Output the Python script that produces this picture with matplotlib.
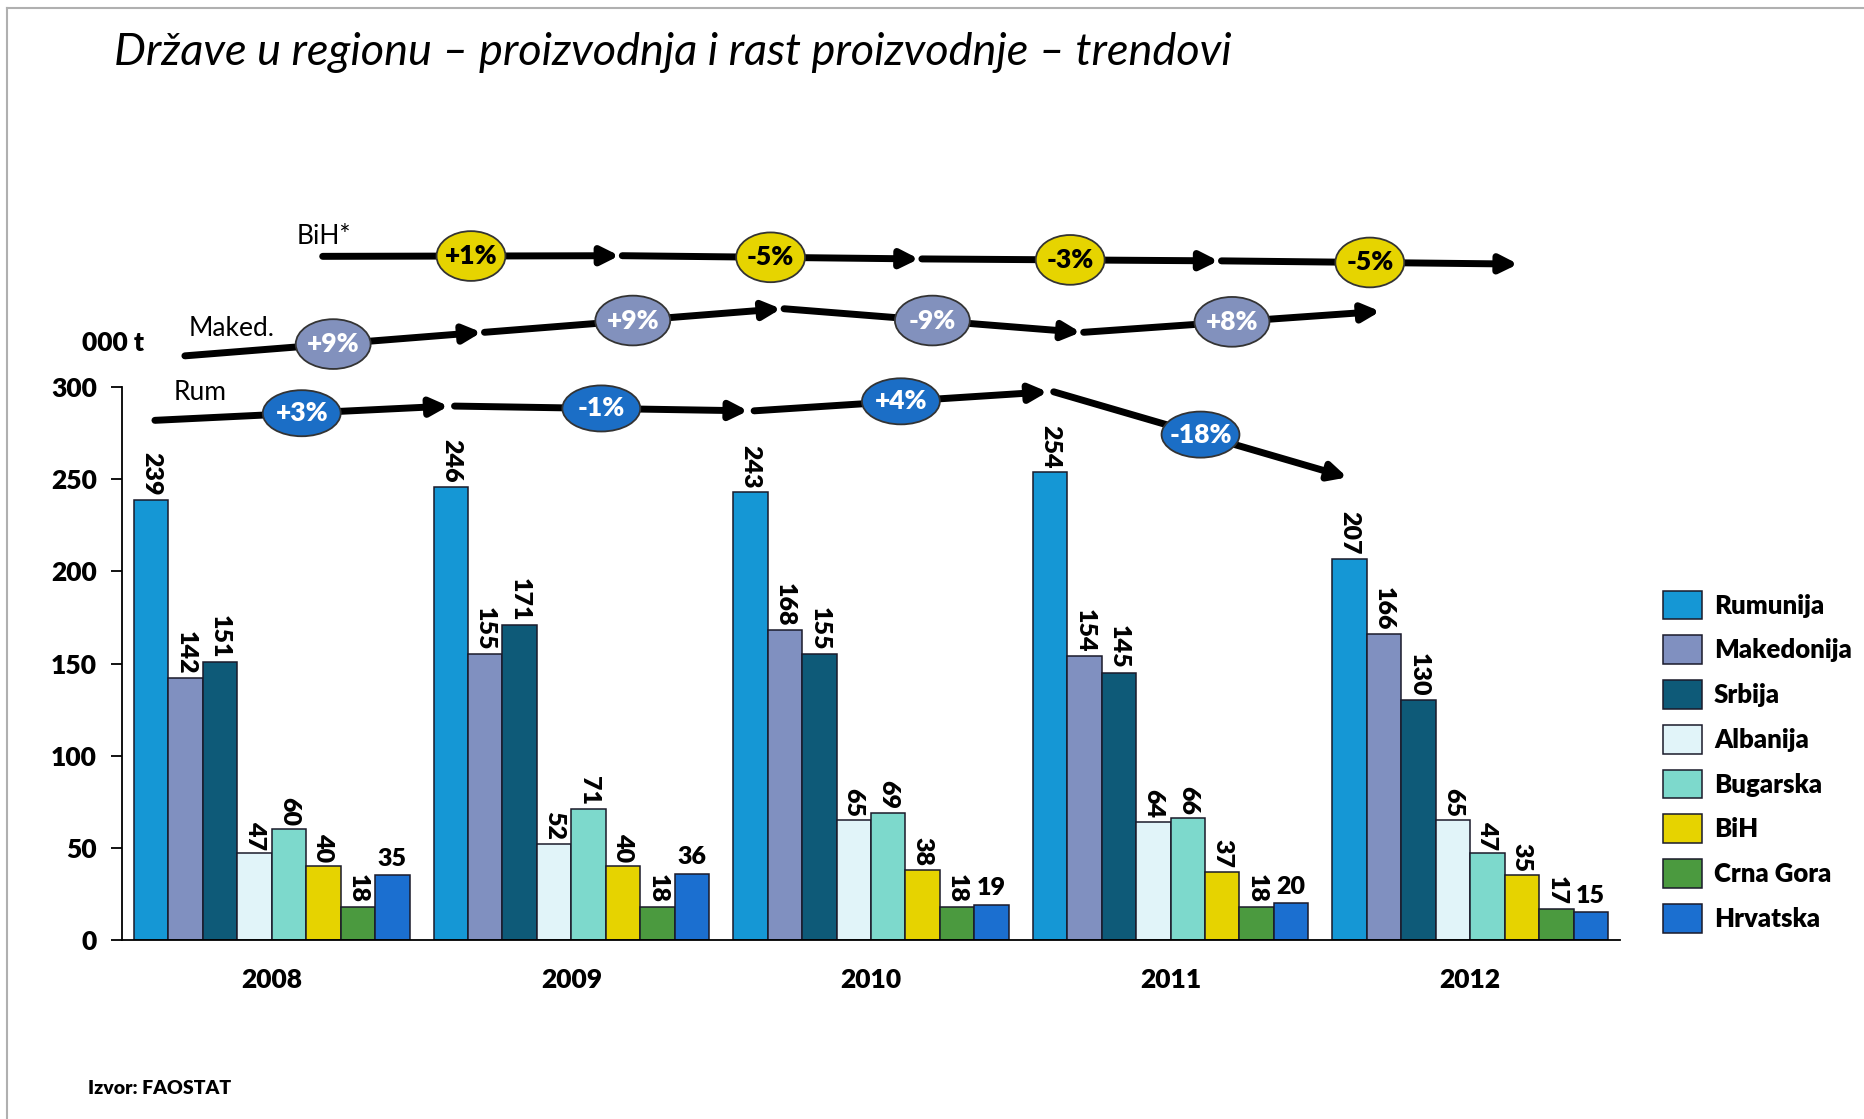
import numpy as np
from matplotlib import pyplot as plt
from matplotlib.patches import Ellipse

plt.rcParams['font.family'] = ['Lato', 'DejaVu Sans']

years = ['2008', '2009', '2010', '2011', '2012']
countries = ['Rumunija', 'Makedonija', 'Srbija', 'Albanija', 'Bugarska', 'BiH', 'Crna Gora', 'Hrvatska']
colors = ['#1597d5', '#8090c0', '#0e5a78', '#e1f4f9', '#7dd9cc', '#e6d300', '#4b9a3f', '#1b6fd0']

rumunija = [239, 246, 243, 254, 207]
makedonija = [142, 155, 168, 154, 166]
srbija = [151, 171, 155, 145, 130]
albanija = [47, 52, 65, 64, 65]
bugarska = [60, 71, 69, 66, 47]
bih = [40, 40, 38, 37, 35]
crna_gora = [18, 18, 18, 18, 17]
hrvatska = [35, 36, 19, 20, 15]
series = [rumunija, makedonija, srbija, albanija, bugarska, bih, crna_gora, hrvatska]

# growth rates year over year (trend arrows above the bars)
rum_growth = [3, -1, 4, -18]
maked_growth = [9, 9, -9, 8]
bih_growth = [1, -5, -3, -5]

fig = plt.figure(figsize=(18.65, 11.19), dpi=100, facecolor='white')
ax = fig.add_axes([0.0654, 0.16, 0.8032, 0.494])

x = np.arange(len(years))
w = 0.115
for i, (name, vals, c) in enumerate(zip(countries, series, colors)):
    pos = x - 4 * w + w / 2 + i * w
    ax.bar(pos, vals, w, color=c, edgecolor='#1a1a2a', linewidth=1.1, label=name)
    for px, v in zip(pos, vals):
        if i == len(series) - 1:
            ax.text(px, v + 3, str(v), ha='center', va='bottom', fontsize=18, fontweight='heavy')
        else:
            ax.text(px, v + 2, str(v), ha='center', va='bottom', rotation=270,
                    fontsize=18, fontweight='heavy')

ax.set_xlim(-0.5, 4.5)
ax.set_ylim(0, 300)
ax.set_yticks([0, 50, 100, 150, 200, 250, 300])
ax.set_xticks(x)
ax.set_xticklabels(years)
for lab in ax.get_xticklabels() + ax.get_yticklabels():
    lab.set_fontweight('heavy')
    lab.set_fontsize(19)
ax.tick_params(axis='x', length=0, pad=20)
ax.tick_params(axis='y', length=8, width=1.3, direction='out', pad=10)
ax.spines['top'].set_visible(False)
ax.spines['right'].set_visible(False)
ax.spines['left'].set_linewidth(1.3)
ax.spines['bottom'].set_linewidth(1.3)

ax.legend(loc='upper left', bbox_to_anchor=(1.013, 0.674), frameon=False,
          prop={'weight': 'heavy', 'size': 18.5}, handlelength=1.55, handleheight=1.35,
          labelspacing=0.62, handletextpad=0.45)


def trend(growth, x0, x1, y0, k, face, tcolor, ew, eh):
    ys = y0 + k * np.concatenate([[0], np.cumsum(growth)])
    for i, g in enumerate(growth):
        xa, xb = i + x0, i + x1
        ya, yb = ys[i], ys[i + 1]
        ax.annotate('', xy=(xb, yb), xytext=(xa, ya), annotation_clip=False,
                    arrowprops=dict(arrowstyle='-|>', lw=5, color='black',
                                    mutation_scale=26, shrinkA=0, shrinkB=0))
        mx, my = (xa + xb) / 2, (ya + yb) / 2
        ax.add_patch(Ellipse((mx, my), ew, eh, facecolor=face, edgecolor='#333333',
                             linewidth=1.3, zorder=5, clip_on=False))
        ax.text(mx, my, '%+d%%' % g, ha='center', va='center', color=tcolor,
                fontsize=19, fontweight='heavy', zorder=6)


trend(rum_growth, -0.39, 0.59, 282, 2.58, '#1b6ec6', 'white', 0.26, 25)
trend(maked_growth, -0.29, 0.70, 317, 1.42, '#8291bd', 'white', 0.25, 27)
trend(bih_growth, 0.17, 1.16, 371, 0.35, '#e6d400', 'black', 0.23, 27)

ax.text(-0.15, 297, 'Rum', ha='right', va='center', fontsize=19)
ax.text(0.008, 332, 'Maked.', ha='right', va='center', fontsize=19)
ax.text(0.265, 382, 'BiH*', ha='right', va='center', fontsize=19)
ax.text(-0.53, 324, '000 t', ha='center', va='center', fontsize=19, fontweight='heavy')

fig.text(0.061, 0.953, 'Države u regionu – proizvodnja i rast proizvodnje – trendovi',
         fontsize=32.5, style='italic', ha='left', va='center')
fig.text(0.047, 0.027, 'Izvor: FAOSTAT', fontsize=14, fontweight='heavy', ha='left', va='center')

# thin frame on left and top like the slide border
fig.add_artist(plt.Line2D([0.004, 0.004], [0.0, 0.993], color='#b0b0b0', lw=1.5))
fig.add_artist(plt.Line2D([0.004, 1.0], [0.993, 0.993], color='#b0b0b0', lw=1.5))

plt.savefig('out.png', dpi=100, facecolor='white')
